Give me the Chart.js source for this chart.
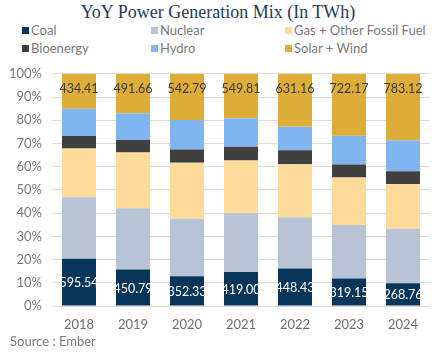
<!DOCTYPE html>
<html>
<head>
<meta charset="utf-8">
<script src="https://cdn.jsdelivr.net/npm/chart.js@4.4.1/dist/chart.umd.min.js"></script>
<style>
  body { margin: 0; width: 436px; height: 352px; overflow: hidden; background: #fff; position: relative; }
  #title { position: absolute; top: 2px; left: 0; width: 436px; text-align: center;
           font-family: "Liberation Serif", serif; font-size: 18px; color: #1e3a5c; }
  #legend { position: absolute; top: 22px; left: 22px; display: grid;
            grid-template-columns: 129px 134px auto; row-gap: 2px;
            font-family: Lato, sans-serif; font-size: 13px; color: #7a7a7a; }
  #legend span.box { display: inline-block; width: 7px; height: 7px; margin-right: 2px; vertical-align: 1px; }
  #wrap { position: absolute; top: 56px; left: 0; width: 436px; height: 296px; }
  #source { position: absolute; left: 10px; top: 333px; font-family: Lato, sans-serif;
            font-size: 13px; color: #7a7a7a; }
</style>
</head>
<body>
<div id="title">YoY Power Generation Mix (In TWh)</div>
<div id="legend"></div>
<div id="wrap"><canvas id="chart"></canvas></div>
<div id="source">Source : Ember</div>
<script>
  const years = ['2018', '2019', '2020', '2021', '2022', '2023', '2024'];

  // share of generation in %
  const coal    = [20.3, 15.7, 12.8, 14.6, 16.2, 11.8, 9.8];
  const nuclear = [26.5, 26.4, 24.8, 25.4, 22.0, 23.1, 23.5];
  const gas     = [21.0, 24.0, 24.1, 22.7, 22.9, 20.4, 19.2];
  const bio     = [5.4, 5.4, 5.7, 5.9, 6.0, 5.6, 5.5];
  const hydro   = [11.8, 11.5, 12.7, 12.3, 10.1, 12.4, 13.4];
  const solar   = [15.0, 17.0, 19.9, 19.1, 22.8, 26.7, 28.6];

  // TWh labels printed on the bars
  const coalTwh  = ['595.54', '450.79', '352.33', '419.00', '448.43', '319.15', '268.76'];
  const solarTwh = ['434.41', '491.66', '542.79', '549.81', '631.16', '722.17', '783.12'];

  const yTicks = [0, 10, 20, 30, 40, 50, 60, 70, 80, 90, 100];

  const labelFont = 'Lato, sans-serif';

  const barLabels = {
    id: 'barLabels',
    afterDatasetsDraw(chart) {
      const ctx = chart.ctx;
      ctx.save();
      ctx.font = '12.5px ' + labelFont;
      ctx.textAlign = 'center';
      ctx.textBaseline = 'middle';
      chart.getDatasetMeta(0).data.forEach((bar, i) => {
        ctx.fillStyle = '#ffffff';
        ctx.fillText(coalTwh[i], bar.x, (bar.y + bar.base) / 2 + 1);
      });
      chart.getDatasetMeta(5).data.forEach((bar, i) => {
        ctx.fillStyle = '#3a3a3a';
        ctx.fillText(solarTwh[i], bar.x, bar.y + 15);
      });
      ctx.restore();
    }
  };

  const chart = new Chart(document.getElementById('chart'), {
    type: 'bar',
    data: {
      labels: years,
      datasets: [
        { label: 'Coal', data: coal, backgroundColor: '#08365b' },
        { label: 'Nuclear', data: nuclear, backgroundColor: '#b8c4d5' },
        { label: 'Gas + Other Fossil Fuel', data: gas, backgroundColor: '#fedb98' },
        { label: 'Bioenergy', data: bio, backgroundColor: '#404040' },
        { label: 'Hydro', data: hydro, backgroundColor: '#80b5f0' },
        { label: 'Solar + Wind', data: solar, backgroundColor: '#dead38' }
      ]
    },
    options: {
      responsive: true,
      maintainAspectRatio: false,
      animation: false,
      layout: { padding: { top: 15, right: 6, left: 0, bottom: 0 } },
      datasets: {
        bar: { categoryPercentage: 0.63, barPercentage: 1, borderWidth: 0 }
      },
      plugins: {
        legend: { display: false },
        tooltip: { enabled: false }
      },
      scales: {
        x: {
          stacked: true,
          grid: { display: false },
          border: { display: false },
          ticks: { color: '#6e6e6e', padding: 3, font: { family: labelFont, size: 13 } },
          afterFit(scale) { scale.height = 46; }
        },
        y: {
          stacked: true,
          min: 0,
          max: 100,
          afterBuildTicks(scale) { scale.ticks = yTicks.map(v => ({ value: v })); },
          grid: { color: '#dcdcdc', drawTicks: false },
          border: { display: false },
          ticks: {
            color: '#7a7a7a',
            padding: 10,
            font: { family: labelFont, size: 13 },
            callback: v => v + '%'
          },
          afterFit(scale) { scale.width = 52; }
        }
      }
    },
    plugins: [barLabels]
  });

  const legend = document.getElementById('legend');
  chart.data.datasets.forEach(ds => {
    const item = document.createElement('div');
    const box = document.createElement('span');
    box.className = 'box';
    box.style.background = ds.backgroundColor;
    item.appendChild(box);
    item.appendChild(document.createTextNode(ds.label));
    legend.appendChild(item);
  });
</script>
</body>
</html>
